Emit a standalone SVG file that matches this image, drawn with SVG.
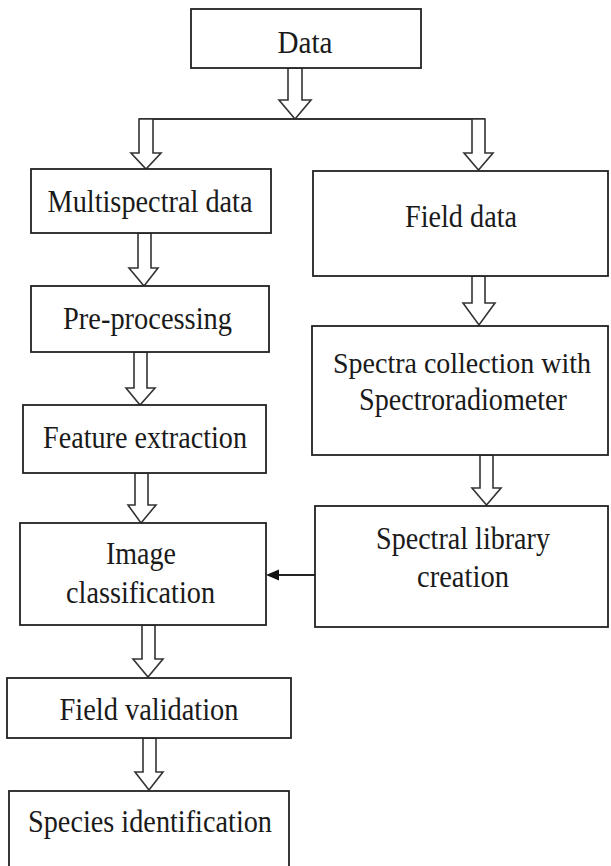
<svg xmlns="http://www.w3.org/2000/svg" width="611" height="866" viewBox="0 0 611 866">
<style>
.box{fill:#fff;stroke:#222;stroke-width:1.8}
.t{font-family:'Liberation Serif','Times New Roman',serif;font-size:32px;fill:#1a1a1a;text-anchor:middle}
.blk{fill:#fff;stroke:#333;stroke-width:1.6;stroke-linejoin:miter}
.ln{fill:none;stroke:#333;stroke-width:1.8}
</style>
<rect width="611" height="866" fill="#fff"/>
<g id="connectors">
<polygon class="blk" points="288,68 288,100 279,100 295,119 311,100 302,100 302,68"/>
<line class="ln" x1="139" y1="119" x2="485" y2="119"/>
<polygon class="blk" points="139,119 139,153 131,153 146,169 161,153 153,153 153,119"/>
<polygon class="blk" points="472,119 472,153 464,153 478.5,170 493,153 485,153 485,119"/>
<polygon class="blk" points="138,233 138,268 129,268 144,286 158,268 151,268 151,233"/>
<polygon class="blk" points="134,352 134,388 126,388 140,405 155,388 147,388 147,352"/>
<polygon class="blk" points="135,473 135,505 128,505 141,523 156,505 148,505 148,473"/>
<polygon class="blk" points="142,625 142,659 133,659 148,677 163,659 155,659 155,625"/>
<polygon class="blk" points="143,738 143,772 135,772 149,790 163,772 156,772 156,738"/>
<polygon class="blk" points="472,276 472,303 463,303 479,325 495,303 485,303 485,276"/>
<polygon class="blk" points="480,455 480,488 472,488 486.5,505 501,488 493,488 493,455"/>
<line x1="315" y1="575" x2="278" y2="575" stroke="#222" stroke-width="1.8"/>
<path d="M266,575 L279,569.5 L279,580.5 z" fill="#111"/>
</g>
<g id="n-data"><rect class="box" x="191" y="9" width="230" height="59"/><text class="t" x="305" y="53" textLength="55" lengthAdjust="spacingAndGlyphs">Data</text></g>
<g id="n-multi"><rect class="box" x="31" y="169" width="240" height="64"/><text class="t" x="150" y="212" textLength="205" lengthAdjust="spacingAndGlyphs">Multispectral data</text></g>
<g id="n-field"><rect class="box" x="313" y="171" width="295" height="105"/><text class="t" x="461" y="227" textLength="112" lengthAdjust="spacingAndGlyphs">Field data</text></g>
<g id="n-pre"><rect class="box" x="31" y="286" width="238" height="66"/><text class="t" x="147.5" y="329" textLength="169" lengthAdjust="spacingAndGlyphs">Pre-processing</text></g>
<g id="n-spectra"><rect class="box" x="312" y="326" width="296" height="129"/><text class="t" style="font-size:29px" x="462" y="373" textLength="258" lengthAdjust="spacingAndGlyphs">Spectra collection with</text><text class="t" x="463" y="410" textLength="208" lengthAdjust="spacingAndGlyphs">Spectroradiometer</text></g>
<g id="n-feature"><rect class="box" x="23" y="405" width="243" height="68"/><text class="t" x="145" y="448" textLength="204" lengthAdjust="spacingAndGlyphs">Feature extraction</text></g>
<g id="n-image"><rect class="box" x="20" y="523" width="246" height="102"/><text class="t" x="141" y="564" textLength="70" lengthAdjust="spacingAndGlyphs">Image</text><text class="t" x="140.5" y="603" textLength="149" lengthAdjust="spacingAndGlyphs">classification</text></g>
<g id="n-library"><rect class="box" x="315" y="506" width="293" height="121"/><text class="t" x="463" y="549" textLength="174" lengthAdjust="spacingAndGlyphs">Spectral library</text><text class="t" x="463" y="587" textLength="92" lengthAdjust="spacingAndGlyphs">creation</text></g>
<g id="n-validation"><rect class="box" x="7" y="678" width="284" height="60"/><text class="t" x="149" y="720" textLength="179" lengthAdjust="spacingAndGlyphs">Field validation</text></g>
<g id="n-species"><rect class="box" x="9" y="791" width="280" height="80"/><text class="t" x="150" y="832" textLength="244" lengthAdjust="spacingAndGlyphs">Species identification</text></g>
</svg>
